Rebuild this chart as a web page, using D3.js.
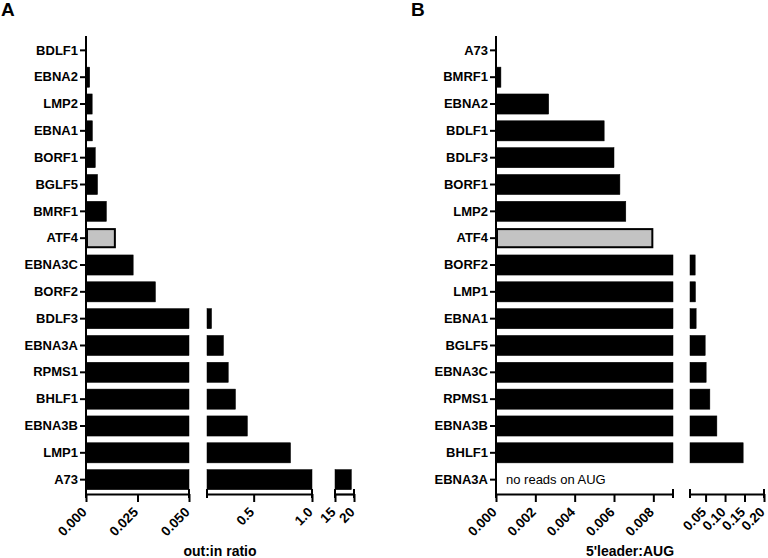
<!DOCTYPE html>
<html>
<head>
<meta charset="utf-8">
<script src="https://cdn.jsdelivr.net/npm/d3@7/dist/d3.min.js"></script>
<style>
  html, body { margin: 0; padding: 0; background: #fff; }
  svg { display: block; }
  text { font-family: "Liberation Sans", Arial, sans-serif; }
</style>
</head>
<body>
<svg id="chart" width="768" height="558"></svg>
<script>
// ---- Data ----
const categoriesA = ["BDLF1","EBNA2","LMP2","EBNA1","BORF1","BGLF5","BMRF1","ATF4","EBNA3C","BORF2","BDLF3","EBNA3A","RPMS1","BHLF1","EBNA3B","LMP1","A73"];
const valuesA = [0.0002, 0.0018, 0.0030, 0.0031, 0.0045, 0.0056, 0.0099, 0.0145, 0.0229, 0.0337, 0.139, 0.241, 0.282, 0.344, 0.446, 0.816, 19.3];
const segmentDomainsA = [[0, 0.05], [0.1, 1.0], [15, 20]];
const tickValuesA = [[0, 0.025, 0.05], [0.5, 1.0], [15, 20]];
const tickFormatsA = ["0.000", "0.0", "0"];
const axisTitleA = "out:in ratio";

const categoriesB = ["A73","BMRF1","EBNA2","BDLF1","BDLF3","BORF1","LMP2","ATF4","BORF2","LMP1","EBNA1","BGLF5","EBNA3C","RPMS1","EBNA3B","BHLF1","EBNA3A"];
const valuesB = [0, 0.00025, 0.00268, 0.0055, 0.0060, 0.0063, 0.0066, 0.0080, 0.0233, 0.0240, 0.0258, 0.049, 0.0515, 0.061, 0.079, 0.1465, null];
const segmentDomainsB = [[0, 0.009], [0.01, 0.20]];
const tickValuesB = [[0, 0.002, 0.004, 0.006, 0.008], [0.05, 0.10, 0.15, 0.20]];
const tickFormatsB = ["0.000", "0.00"];
const axisTitleB = "5'leader:AUG";
const noDataNote = "no reads on AUG";
const highlight = "ATF4";

// ---- Layout ----
const svg = d3.select("#chart");
const yTop = 36, yBottom = 494;

function fmt(pattern) {
  if (pattern === "0.000") return d3.format(".3f");
  if (pattern === "0.00") return d3.format(".2f");
  if (pattern === "0.0") return d3.format(".1f");
  return d3.format("d");
}

function drawPanel(opts) {
  const g = svg.append("g");
  const y = d3.scaleBand().domain(opts.categories).range([yTop, yBottom])
    .paddingInner(0.25).paddingOuter(0.16);
  const scales = opts.domains.map((d, i) => d3.scaleLinear().domain(d).range(opts.ranges[i]));

  // bars
  opts.categories.forEach((c, i) => {
    const v = opts.values[i];
    if (v == null) return;
    scales.forEach((s, si) => {
      const [d0, d1] = s.domain();
      if (v <= d0 && si > 0) return;
      const x0 = s(d0);
      const x1 = s(Math.min(v, d1));
      if (x1 - x0 <= 0) return;
      const hl = c === highlight;
      g.append("rect")
        .attr("x", hl ? x0 + 1 : x0)
        .attr("y", hl ? y(c) + 1 : y(c))
        .attr("width", hl ? Math.max(0, x1 - x0 - 2) : x1 - x0)
        .attr("height", hl ? y.bandwidth() - 2 : y.bandwidth())
        .attr("fill", hl ? "#c3c3c3" : "#000")
        .attr("stroke", "#000")
        .attr("stroke-width", hl ? 2 : 0.5);
    });
  });

  // y axis
  const x0 = scales[0](0);
  const yAxis = d3.axisLeft(y).tickSize(6).tickPadding(2);
  const ya = g.append("g").attr("transform", `translate(${x0},0)`).call(yAxis);
  ya.select(".domain").attr("d", `M0,${yTop}V${yBottom}`).attr("stroke-width", 2);
  ya.selectAll(".tick line").attr("stroke-width", 2);
  ya.selectAll(".tick text").attr("font-size", 13).attr("font-weight", "bold").attr("fill", "#000");

  // x axis segments
  scales.forEach((s, si) => {
    const ax = d3.axisBottom(s).tickValues(opts.ticks[si]).tickFormat(fmt(opts.formats[si]))
      .tickSize(8).tickSizeOuter(0);
    const xa = g.append("g").attr("transform", `translate(0,${yBottom})`).call(ax);
    const r = s.range();
    xa.select(".domain").attr("stroke-width", 2.2);
    xa.selectAll(".tick line").attr("stroke-width", 2);
    xa.selectAll(".tick text")
      .attr("font-size", 13.5).attr("font-weight", "bold").attr("fill", "#000")
      .attr("text-anchor", "end")
      .attr("y", 0).attr("dy", 0)
      .attr("transform", "translate(1,19) rotate(-45)");
    // segment end caps
    [r[0], r[1]].forEach(xx => {
      xa.append("line").attr("x1", xx).attr("x2", xx).attr("y1", -5).attr("y2", 4)
        .attr("stroke", "#000").attr("stroke-width", 2);
    });
  });

  // axis title
  const full = [scales[0].range()[0], scales[scales.length - 1].range()[1]];
  g.append("text").attr("x", (full[0] + full[1]) / 2).attr("y", 556)
    .attr("text-anchor", "middle").attr("font-size", 14).attr("font-weight", "bold")
    .text(opts.title);

  // panel letter
  g.append("text").attr("x", opts.letterX).attr("y", 16).attr("font-size", 19)
    .attr("font-weight", "bold").text(opts.letter);

  return { y, scales };
}

drawPanel({
  categories: categoriesA, values: valuesA, domains: segmentDomainsA,
  ranges: [[86, 189], [207, 312], [335, 354]],
  ticks: tickValuesA, formats: tickFormatsA, title: axisTitleA, letter: "A", letterX: 1
});

const pB = drawPanel({
  categories: categoriesB, values: valuesB, domains: segmentDomainsB,
  ranges: [[496, 673], [690, 764]],
  ticks: tickValuesB, formats: tickFormatsB, title: axisTitleB, letter: "B", letterX: 411
});

// note for missing value
const missingIdx = valuesB.findIndex(v => v == null);
svg.append("text")
  .attr("x", pB.scales[0](0) + 10)
  .attr("y", pB.y(categoriesB[missingIdx]) + pB.y.bandwidth() / 2)
  .attr("dy", "0.35em")
  .attr("font-size", 13).attr("fill", "#000")
  .text(noDataNote);
</script>
</body>
</html>
